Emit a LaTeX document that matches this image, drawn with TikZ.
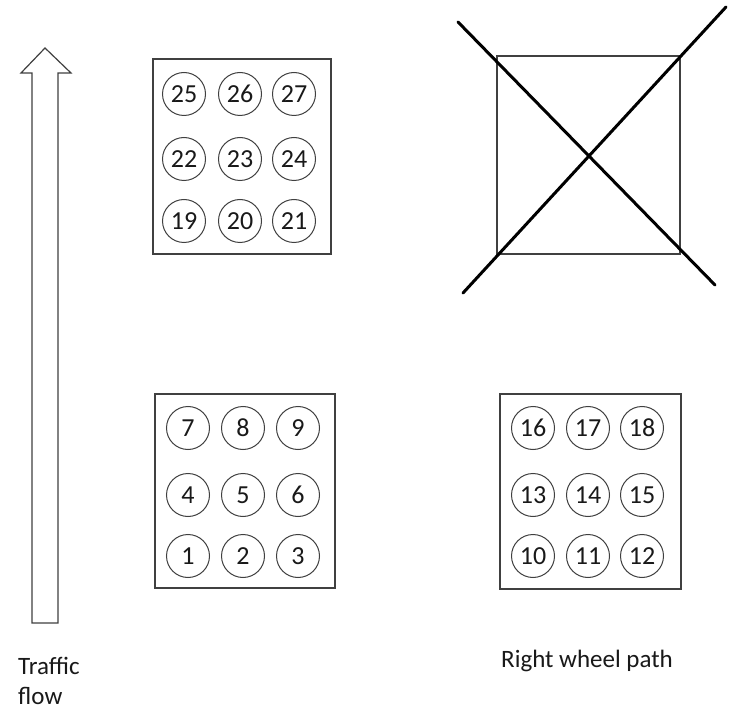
\documentclass[tikz,border=0pt]{standalone}
\usepackage{fontspec}
\setmainfont{Carlito}
\begin{document}
\begin{tikzpicture}[x=1pt,y=-1pt,
  frame/.style={draw=black!75, line width=1.2pt, inner sep=0pt},
  spot/.style={circle, draw=black!75, line width=1pt, minimum size=43pt, inner sep=0pt, text=black!90, font=\fontsize{26}{26}\selectfont},
  label/.style={anchor=base west, inner sep=0pt, text=black!90, font=\fontsize{25}{25}\selectfont},
  crossline/.style={line width=3pt, line cap=round, draw=black}]
\useasboundingbox (0,0) rectangle (731,711);
\fill[white] (0,0) rectangle (731,711);

% traffic arrow
\draw[line width=1.2pt, draw=black!75, line join=miter]
  (45,48) -- (21,73) -- (32,73) -- (32,623) -- (58,623) -- (58,73) -- (71,73) -- cycle;

% boxes
\node[frame, minimum width=178pt, minimum height=195pt] (tl) at (242,156.5) {};
\node[frame, minimum width=180pt, minimum height=194pt] (bl) at (245,491) {};
\node[frame, minimum width=181pt, minimum height=195pt] (br) at (590.5,491.5) {};
\node[frame, minimum width=183pt, minimum height=198pt] (tr) at (588.5,155) {};

% top-left circles
\node[spot] (c25) at (184,94) {25};
\node[spot] (c26) at (240,94) {26};
\node[spot] (c27) at (294,94) {27};
\node[spot] (c22) at (184,159) {22};
\node[spot] (c23) at (240,159) {23};
\node[spot] (c24) at (294,159) {24};
\node[spot] (c19) at (184,221) {19};
\node[spot] (c20) at (240,221) {20};
\node[spot] (c21) at (294,221) {21};

% bottom-left circles
\node[spot] (c7) at (188,428) {7};
\node[spot] (c8) at (243,428) {8};
\node[spot] (c9) at (298,428) {9};
\node[spot] (c4) at (188,495) {4};
\node[spot] (c5) at (243,495) {5};
\node[spot] (c6) at (298,495) {6};
\node[spot] (c1) at (188,556) {1};
\node[spot] (c2) at (243,556) {2};
\node[spot] (c3) at (298,556) {3};

% bottom-right circles
\node[spot] (c16) at (533,428) {16};
\node[spot] (c17) at (588,428) {17};
\node[spot] (c18) at (642,428) {18};
\node[spot] (c13) at (533,495) {13};
\node[spot] (c14) at (588,495) {14};
\node[spot] (c15) at (642,495) {15};
\node[spot] (c10) at (533,556) {10};
\node[spot] (c11) at (588,556) {11};
\node[spot] (c12) at (642,556) {12};

% cross over top-right box
\coordinate (x1a) at (458,22);
\coordinate (x1b) at (715,285);
\coordinate (x2a) at (726,7);
\coordinate (x2b) at (463,293);
\draw[crossline] (x1a) -- (x1b);
\draw[crossline] (x2a) -- (x2b);

% labels
\node[label] (traffic) at (18,674) {Traffic};
\node[label] (flow) at (18,704) {flow};
\node[label] (rwp) at (501,667) {Right wheel path};
\end{tikzpicture}
\end{document}
